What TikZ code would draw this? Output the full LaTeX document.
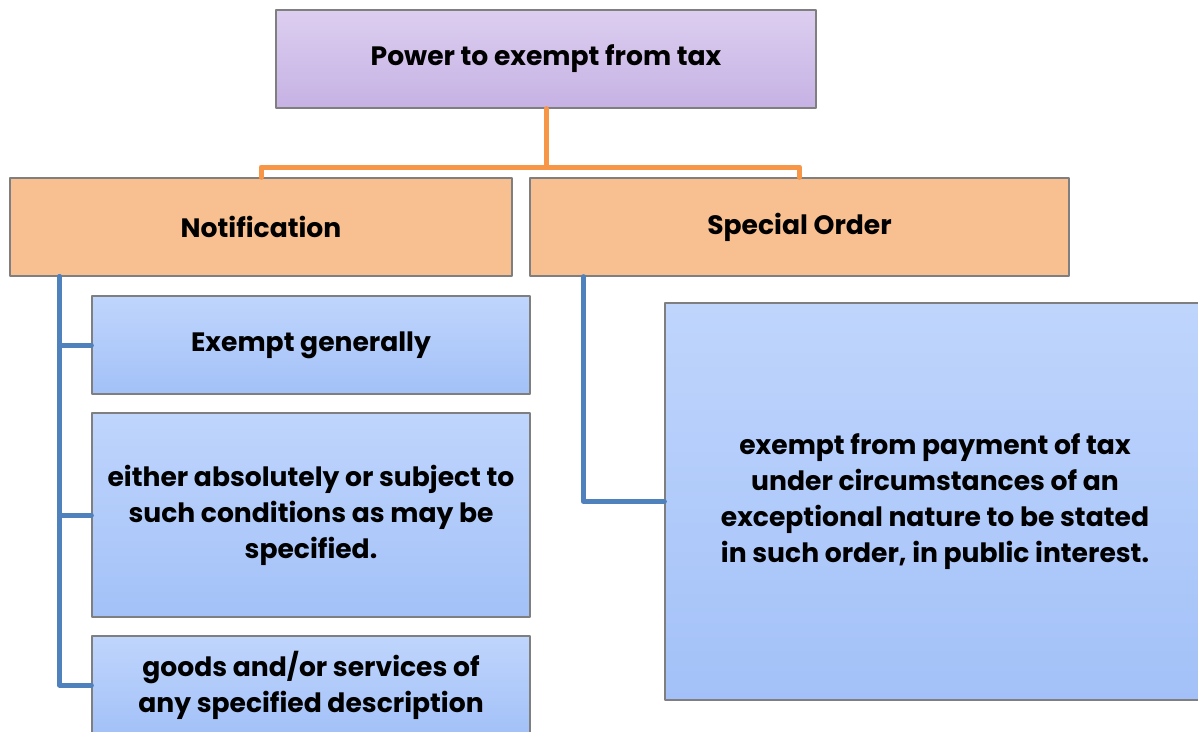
\documentclass[tikz,border=0pt]{standalone}
\usepackage{fontspec}
\setmainfont{Poppins}
\usetikzlibrary{positioning}

\definecolor{boxline}{HTML}{7F7F7F}
\definecolor{lavtop}{HTML}{DCCEF0}
\definecolor{lavbot}{HTML}{C6B2E4}
\definecolor{peach}{HTML}{F8C091}
\definecolor{bluetop}{HTML}{BFD5FC}
\definecolor{bluebot}{HTML}{A3C1F8}
\definecolor{orangeline}{HTML}{F79646}
\definecolor{blueline}{HTML}{4F81BD}

\begin{document}
\begin{tikzpicture}[x=1pt,y=-1pt,line cap=round,line join=round,
  box/.style={draw=boxline,line width=1.3pt,align=center,inner sep=0pt,
    font=\fontsize{26.6}{36}\selectfont\bfseries},
  headbox/.style={box,top color=lavtop,bottom color=lavbot},
  midbox/.style={box,fill=peach},
  leafbox/.style={box,top color=bluetop,bottom color=bluebot},
  orangelink/.style={draw=orangeline,line width=5pt},
  bluelink/.style={draw=blueline,line width=5pt}]
  \useasboundingbox (0,0) rectangle (1198,731);

  \node[headbox,minimum width=540pt,minimum height=98pt] (power) at (546,59)
    {Power to exempt from tax};
  \node[midbox,minimum width=502pt,minimum height=98pt] (notif) at (261,227)
    {Notification};
  \node[midbox,minimum width=539pt,minimum height=98pt] (special) at (799.5,227)
    {Special Order};

  \node[leafbox,minimum width=438pt,minimum height=98pt] (general) at (311,345)
    {Exempt generally};
  \node[leafbox,minimum width=438pt,minimum height=204pt] (absolute) at (311,515)
    {either absolutely or subject to\\such conditions as may be\\specified.};
  \node[leafbox,minimum width=438pt,minimum height=98pt] (goods) at (311,685)
    {goods and/or services of\\any specified description};
  \node[leafbox,minimum width=540pt,minimum height=397pt] (exceptional) at (935,501.5)
    {exempt from payment of tax\\under circumstances of an\\exceptional nature to be stated\\in such order, in public interest.};

  \coordinate (fork) at (546,167);
  \draw[orangelink] (power.south) -- (fork) -| (notif.north);
  \draw[orangelink] (fork) -| (special.north);

  \draw[bluelink] ([xshift=50pt]notif.south west) |- (general.west);
  \draw[bluelink] ([xshift=50pt]notif.south west) |- (absolute.west);
  \draw[bluelink] ([xshift=50pt]notif.south west) |- (goods.west);
  \draw[bluelink] ([xshift=54pt]special.south west) |- (exceptional.west);
\end{tikzpicture}
\end{document}
